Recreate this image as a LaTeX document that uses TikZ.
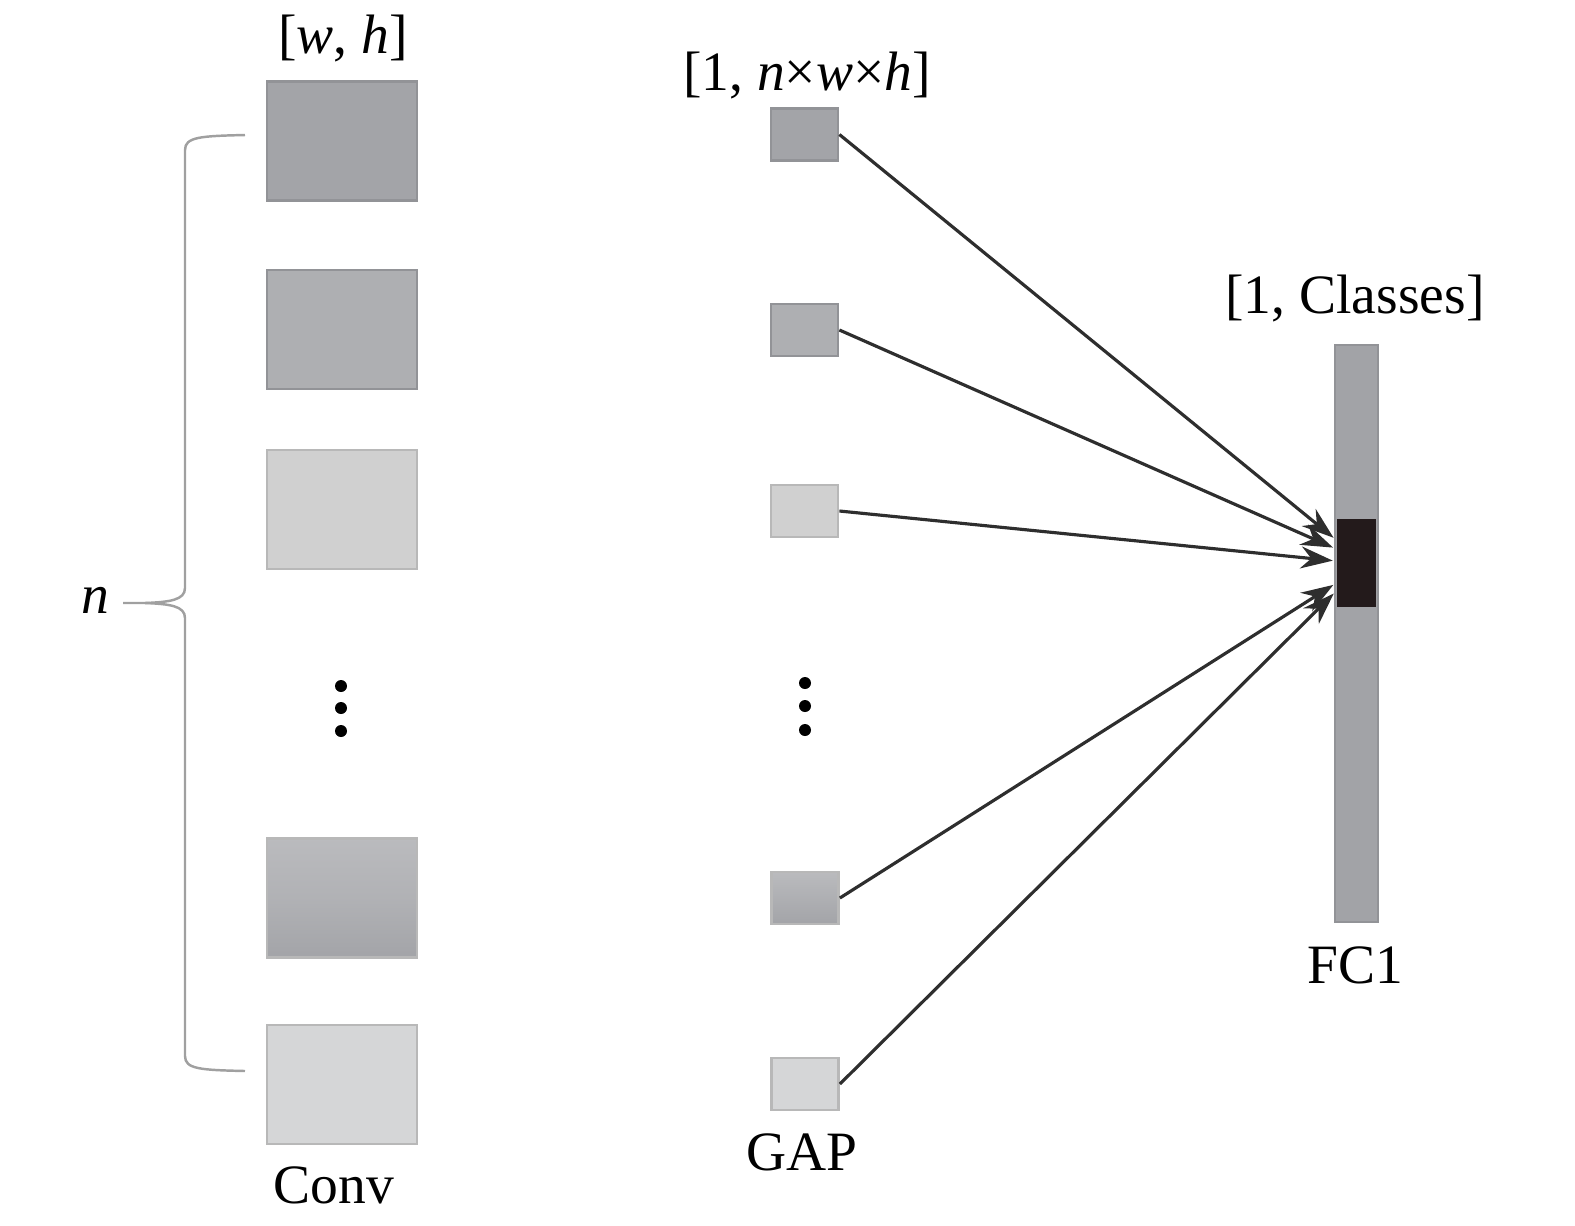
\documentclass[tikz,border=0pt]{standalone}
\usepackage{fontspec}
\setmainfont{Liberation Serif}
\usetikzlibrary{arrows.meta,positioning}
\definecolor{mapdark}{HTML}{A3A4A8}
\definecolor{mapmid}{HTML}{AEAFB2}
\definecolor{maplight}{HTML}{D0D0D0}
\definecolor{mappale}{HTML}{D5D6D7}
\definecolor{mapedge}{HTML}{929397}
\definecolor{lightedge}{HTML}{B8B8B8}
\definecolor{barfill}{HTML}{A2A3A7}
\definecolor{hotcell}{HTML}{231A1B}
\definecolor{wire}{HTML}{2E2E2E}
\definecolor{bracegray}{HTML}{A0A0A0}

\begin{document}
\begin{tikzpicture}[x=1cm,y=1cm,>={Stealth[length=3.2mm,width=2.2mm]},
  font=\fontsize{15.8}{19}\selectfont,
  conv/.style={rectangle,draw=mapedge,line width=0.8pt,minimum width=1.5cm,minimum height=1.19cm,inner sep=0pt},
  gap/.style={rectangle,draw=mapedge,line width=0.8pt,minimum width=0.67cm,minimum height=0.52cm,inner sep=0pt},
  dot/.style={circle,fill=black,inner sep=0pt,minimum size=1.2mm},
  link/.style={->,wire,line width=0.9pt,shorten >=1pt}]
\useasboundingbox (0,0) rectangle (15.75,-12.26);
% conv feature maps
\node[conv,fill=mapdark] (c1) at (3.42,-1.41) {};
\node[conv,fill=mapmid] (c2) at (3.42,-3.295) {};
\node[conv,fill=maplight,draw=lightedge] (c3) at (3.42,-5.095) {};
\node[conv,draw=lightedge,top color=mapdark!75!white,bottom color=mapdark,middle color=mapdark!85!white] (c4) at (3.42,-8.98) {};
\node[conv,fill=mappale,draw=lightedge] (c5) at (3.42,-10.845) {};
\node[dot] at (3.41,-6.86) {};
\node[dot] at (3.41,-7.08) {};
\node[dot] at (3.41,-7.31) {};
\node (wh) at (3.43,-0.38) {[\textit{w}, \textit{h}]};
\node (convlbl) at (3.34,-11.85) {Conv};
% brace
\draw[bracegray,line width=0.7pt] (2.45,-1.35) .. controls (2.0,-1.36) and (1.85,-1.37) .. (1.85,-1.5)
  -- (1.85,-5.88) .. controls (1.85,-6.0) and (1.7,-6.02) .. (1.45,-6.03) -- (1.23,-6.03);
\draw[bracegray,line width=0.7pt] (2.45,-10.71) .. controls (2.0,-10.70) and (1.85,-10.69) .. (1.85,-10.56)
  -- (1.85,-6.18) .. controls (1.85,-6.06) and (1.7,-6.04) .. (1.45,-6.03);
\node (nlbl) at (0.95,-6.0) {\textit{n}};
% GAP vectors
\node[gap,fill=mapdark] (g1) at (8.045,-1.345) {};
\node[gap,fill=mapmid] (g2) at (8.045,-3.30) {};
\node[gap,fill=maplight,draw=lightedge] (g3) at (8.045,-5.11) {};
\node[gap,draw=lightedge,top color=mapdark!75!white,bottom color=mapdark] (g4) at (8.05,-8.98) {};
\node[gap,fill=mappale,draw=lightedge] (g5) at (8.05,-10.84) {};
\node[dot] at (8.05,-6.83) {};
\node[dot] at (8.05,-7.06) {};
\node[dot] at (8.05,-7.30) {};
\node (gapsize) at (8.07,-0.75) {[1, \textit{n}×\textit{w}×\textit{h}]};
\node (gaplbl) at (8.02,-11.52) {GAP};
% FC1 column
\node[rectangle,draw=mapedge,line width=0.8pt,fill=barfill,minimum width=0.43cm,minimum height=5.77cm,inner sep=0pt] (fc) at (13.565,-6.335) {};
\node[rectangle,fill=hotcell,minimum width=0.39cm,minimum height=0.88cm,inner sep=0pt] (hot) at (13.565,-5.63) {};
\node (fcsize) at (13.55,-2.98) {[1, Classes]};
\node (fclbl) at (13.55,-9.65) {FC1};
% links
\draw[link] (g1.east) -- ([yshift=2.3mm]hot.west);
\draw[link] (g2.east) -- ([yshift=1.4mm]hot.west);
\draw[link] (g3.east) -- ([yshift=0.2mm]hot.west);
\draw[link] (g4.east) -- ([yshift=-2.0mm]hot.west);
\draw[link] (g5.east) -- ([yshift=-2.8mm]hot.west);
\end{tikzpicture}
\end{document}
